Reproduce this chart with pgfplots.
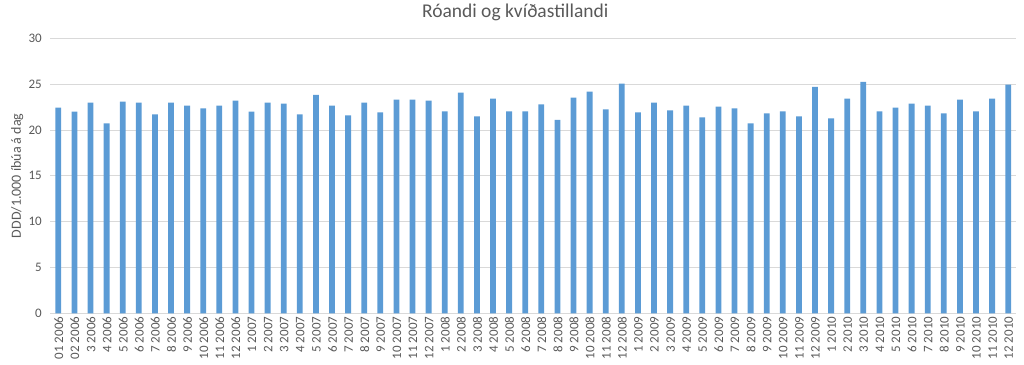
\documentclass[border=0pt]{standalone}
\usepackage{pgfplots}
\pgfplotsset{compat=1.18}
\usepackage{fontspec}
\setmainfont{Carlito}
\definecolor{barblue}{HTML}{5B9BD5}
\definecolor{txtgray}{HTML}{595959}
\definecolor{gridgray}{HTML}{D9D9D9}
\begin{document}
\begin{tikzpicture}
\useasboundingbox (0,0) rectangle (1024bp,365bp);
\begin{axis}[
  at={(50.25bp,51.7bp)}, anchor=south west,
  scale only axis, width=966bp, height=275bp,
  xmin=-0.5, xmax=59.5, ymin=0, ymax=30,
  ytick={0,5,...,30},
  xtick={0,...,59},
  xticklabels={01 2006,02 2006,3 2006,4 2006,5 2006,6 2006,7 2006,8 2006,9 2006,10 2006,11 2006,12 2006,
    1 2007,2 2007,3 2007,4 2007,5 2007,6 2007,7 2007,8 2007,9 2007,10 2007,11 2007,12 2007,
    1 2008,2 2008,3 2008,4 2008,5 2008,6 2008,7 2008,8 2008,9 2008,10 2008,11 2008,12 2008,
    1 2009,2 2009,3 2009,4 2009,5 2009,6 2009,7 2009,8 2009,9 2009,10 2009,11 2009,12 2009,
    1 2010,2 2010,3 2010,4 2010,5 2010,6 2010,7 2010,8 2010,9 2010,10 2010,11 2010,12 2010},
  /pgf/number format/assume math mode=true,
  axis x line=bottom, axis y line=left,
  x axis line style={-, draw=gridgray, line width=0.75bp},
  y axis line style={draw=none},
  major tick length=0pt,
  ymajorgrids, grid style={gridgray, line width=0.75bp},
  xticklabel style={rotate=90, anchor=east, yshift=-0.5bp, font=\fontsize{13bp}{15bp}\selectfont, text=txtgray},
  yticklabel style={anchor=east, xshift=-5bp, font=\fontsize{13bp}{15bp}\selectfont, text=txtgray},
  title={Róandi og kvíðastillandi},
  title style={font=\fontsize{19.5bp}{22bp}\selectfont, text=txtgray, at={(axis description cs:0.5,1)}, anchor=center, yshift=19.5bp, xshift=-18bp},
  ylabel={DDD/1.000 íbúa á dag},
  every axis y label/.style={at={(axis description cs:0,0.5)}, xshift=-33bp, rotate=90, anchor=center, font=\fontsize{14bp}{16bp}\selectfont, text=txtgray},
  ybar, bar width=5.8bp,
]
\addplot[fill=barblue, draw=none] coordinates {
(0,22.44) (1,22.0) (2,22.98) (3,20.73) (4,23.09) (5,22.98) (6,21.71) (7,22.98) (8,22.65) (9,22.36) (10,22.65) (11,23.2)
(12,22.0) (13,22.98) (14,22.87) (15,21.71) (16,23.82) (17,22.65) (18,21.6) (19,22.98) (20,21.93) (21,23.31) (22,23.31) (23,23.2)
(24,22.04) (25,24.07) (26,21.49) (27,23.42) (28,22.04) (29,22.04) (30,22.8) (31,21.09) (32,23.53) (33,24.18) (34,22.25) (35,25.05)
(36,21.93) (37,22.98) (38,22.15) (39,22.65) (40,21.38) (41,22.55) (42,22.36) (43,20.73) (44,21.82) (45,22.04) (46,21.49) (47,24.69)
(48,21.27) (49,23.42) (50,25.24) (51,22.04) (52,22.44) (53,22.87) (54,22.65) (55,21.82) (56,23.31) (57,22.04) (58,23.42) (59,24.95)
};
\end{axis}
\end{tikzpicture}
\end{document}
